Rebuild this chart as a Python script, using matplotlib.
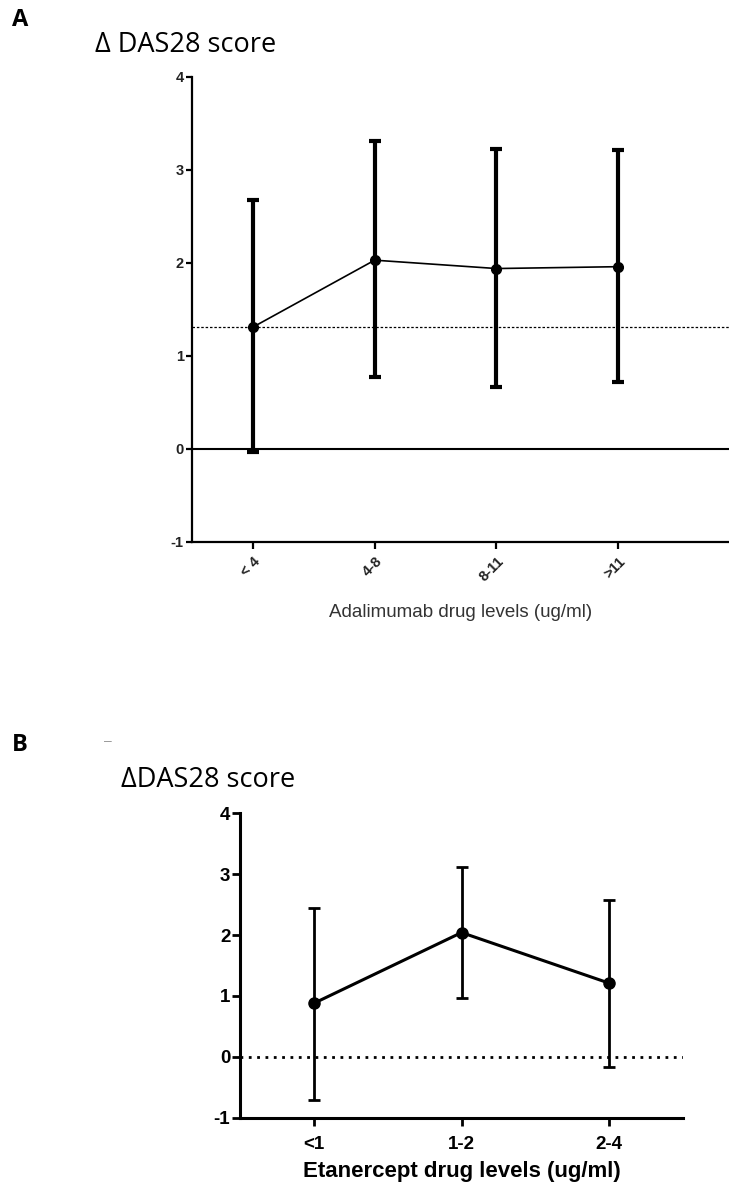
import matplotlib.pyplot as plt

# Panel A: adalimumab
ada_levels = ['< 4', '4-8', '8-11', '>11']
ada_mean = [1.31, 2.03, 1.94, 1.96]
ada_low = [-0.03, 0.77, 0.67, 0.72]
ada_high = [2.68, 3.31, 3.22, 3.21]
ada_ref = 1.31

# Panel B: etanercept
eta_levels = ['<1', '1-2', '2-4']
eta_mean = [0.88, 2.04, 1.21]
eta_low = [-0.70, 0.97, -0.16]
eta_high = [2.45, 3.11, 2.58]

yticks = [-1, 0, 1, 2, 3, 4]

plt.rcParams['font.family'] = ['Liberation Sans', 'DejaVu Sans']
plt.rcParams['axes.unicode_minus'] = False

fig = plt.figure(figsize=(7.29, 11.93), dpi=100)

# ---- panel A ----
axA = fig.add_axes([0.2634, 0.5457, 0.7366, 0.3898])
xa = list(range(len(ada_levels)))
errA = [[m - l for m, l in zip(ada_mean, ada_low)],
        [h - m for m, h in zip(ada_mean, ada_high)]]
axA.axhline(0, color='black', lw=1.5, zorder=1)
axA.axhline(ada_ref, color='black', lw=0.9, ls=(0, (2, 1.5)), zorder=1)
axA.errorbar(xa, ada_mean, yerr=errA, fmt='none', ecolor='black',
             elinewidth=3, capsize=4.5, capthick=3, zorder=2)
axA.plot(xa, ada_mean, color='black', lw=1.2, marker='o', ms=7, zorder=3)
axA.set_xlim(-0.5, 3.91)
axA.set_ylim(-1, 4)
axA.set_yticks(yticks)
axA.set_xticks(xa)
axA.set_xticklabels(ada_levels, rotation=45, ha='right', rotation_mode='anchor',
                    fontsize=10.5, fontweight='bold', color='#222222')
for lab in axA.get_yticklabels():
    lab.set_fontsize(10.5)
    lab.set_fontweight('bold')
    lab.set_color('#222222')
for s in ['top', 'right']:
    axA.spines[s].set_visible(False)
for s in ['left', 'bottom']:
    axA.spines[s].set_linewidth(1.6)
axA.tick_params(axis='y', direction='out', length=4, width=1.6, pad=2)
axA.tick_params(axis='x', direction='out', length=5, width=1.6, pad=4)
axA.set_xlabel('Adalimumab drug levels (ug/ml)', fontsize=13.5, color='#333333',
               labelpad=14)

fig.text(0.016, 0.983, 'A', fontsize=17, fontweight='bold', va='center',
         family=['Open Sans', 'DejaVu Sans'])
fig.text(0.131, 0.962, 'Δ DAS28 score', fontsize=19.5, va='center',
         family=['Open Sans', 'DejaVu Sans'])

# ---- panel B ----
axB = fig.add_axes([0.3292, 0.0629, 0.6078, 0.2556])
xb = list(range(len(eta_levels)))
errB = [[m - l for m, l in zip(eta_mean, eta_low)],
        [h - m for m, h in zip(eta_mean, eta_high)]]
axB.axhline(0, color='black', lw=2, ls=(0, (1, 2)), zorder=1)
axB.errorbar(xb, eta_mean, yerr=errB, fmt='none', ecolor='black',
             elinewidth=2, capsize=4.5, capthick=2, zorder=2)
axB.plot(xb, eta_mean, color='black', lw=2.2, marker='o', ms=8, zorder=3)
axB.set_xlim(-0.5, 2.5)
axB.set_ylim(-1, 4)
axB.set_yticks(yticks)
axB.set_xticks(xb)
axB.set_xticklabels(eta_levels, fontsize=13.5, fontweight='bold')
for lab in axB.get_yticklabels():
    lab.set_fontsize(13.5)
    lab.set_fontweight('bold')
for s in ['top', 'right']:
    axB.spines[s].set_visible(False)
for s in ['left', 'bottom']:
    axB.spines[s].set_linewidth(2.2)
axB.tick_params(direction='out', length=6, width=2)
axB.tick_params(axis='y', pad=1)
axB.tick_params(axis='x', pad=7)
axB.set_xlabel('Etanercept drug levels (ug/ml)', fontsize=16,
               fontweight='bold', labelpad=6)

fig.text(0.016, 0.3755, 'B', fontsize=17, fontweight='bold', va='center',
         family=['Open Sans', 'DejaVu Sans'])
fig.text(0.166, 0.346, 'ΔDAS28 score', fontsize=19.5, va='center',
         family=['Open Sans', 'DejaVu Sans'])
fig.text(0.143, 0.379, '–', fontsize=10, color='#999999', va='center')

fig.savefig('out.png', dpi=100)
